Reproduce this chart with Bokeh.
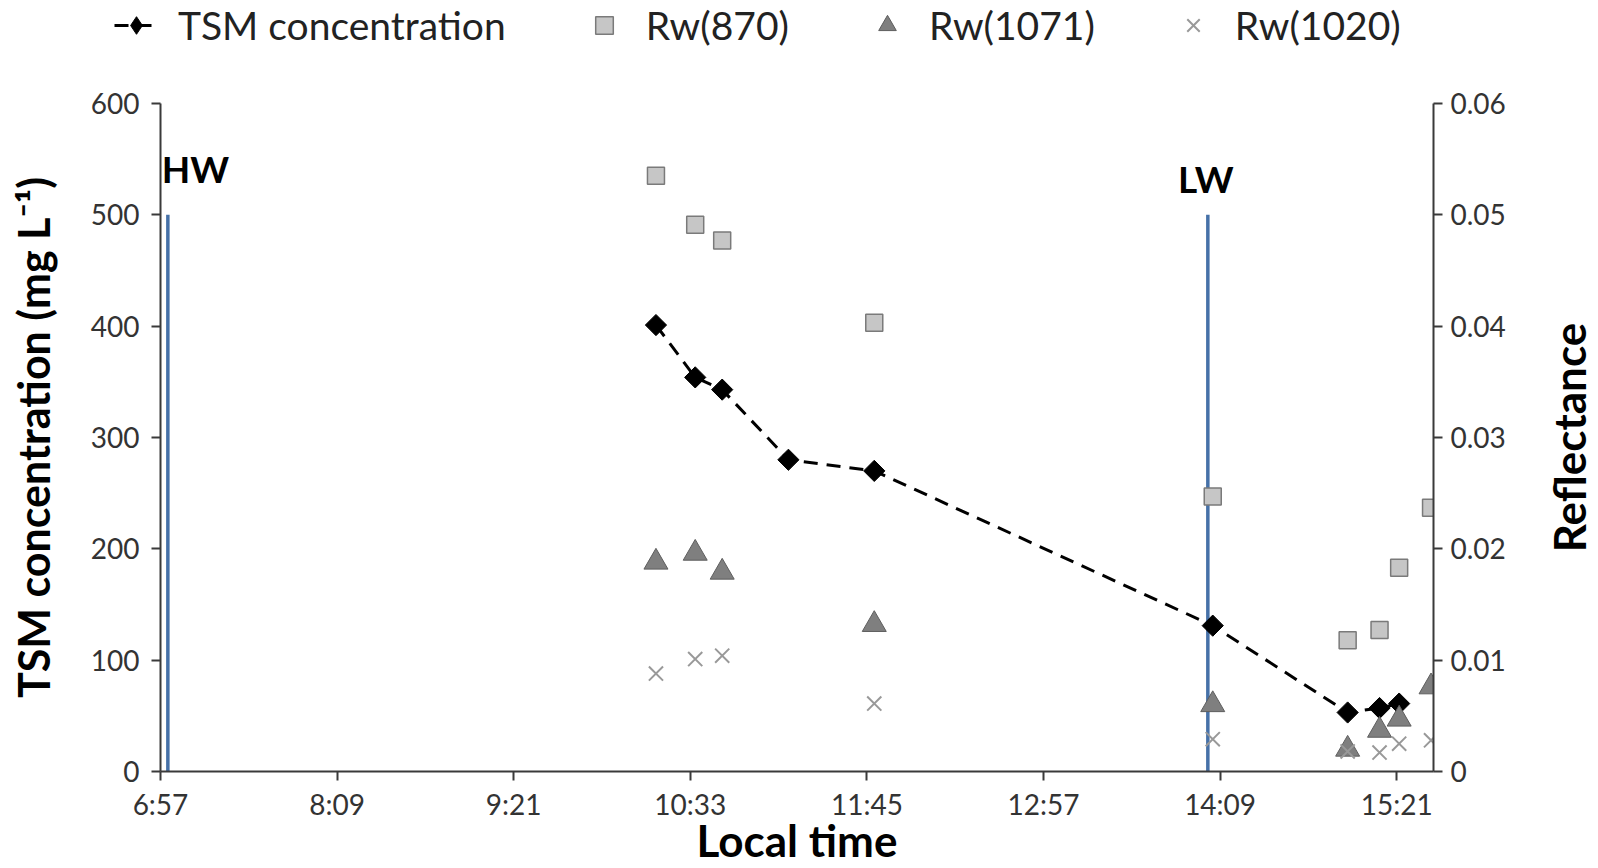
import math
from bokeh.plotting import figure
from bokeh.layouts import column, row
from bokeh.models import (Range1d, LinearAxis, FixedTicker, Legend, LegendItem,
                          CustomJSTickFormatter, Label)
from bokeh.core.properties import value
from bokeh.embed import file_html
from bokeh.resources import INLINE

# ---------------- data ----------------
tick_labels = ["6:57", "8:09", "9:21", "10:33", "11:45", "12:57", "14:09", "15:21"]
x_axis_end = "15:36"

tsm_times = ["10:19", "10:35", "10:46", "11:13", "11:48", "14:06", "15:01", "15:14", "15:22"]
tsm_values = [401, 354, 343, 280, 270, 131, 53, 57, 61]

rw_times = ["10:19", "10:35", "10:46", "11:48", "14:06", "15:01", "15:14", "15:22", "15:35"]
rw870 = [0.0535, 0.0491, 0.0477, 0.0403, 0.0247, 0.0118, 0.0127, 0.0183, 0.0237]
rw1071 = [0.0188, 0.0196, 0.0179, 0.0132, 0.0060, 0.0020, 0.0037, 0.0047, 0.0076]
rw1020 = [0.0088, 0.0101, 0.0104, 0.0061, 0.0029, 0.0018, 0.0017, 0.0025, 0.0028]

tide_events = ["HW", "LW"]
tide_times = ["7:00", "14:04"]
tide_line_top = [500, 500]

tsm_ticks = [0, 100, 200, 300, 400, 500, 600]
refl_ticks = [0, 0.01, 0.02, 0.03, 0.04, 0.05, 0.06]

series_names = ["TSM concentration", "Rw(870)", "Rw(1071)", "Rw(1020)"]

# ---------------- helpers ----------------
def to_min(s):
    h, m = s.split(":")
    return int(h) * 60 + int(m)

tick_pos = [to_min(t) for t in tick_labels]
tsm_x = [to_min(t) for t in tsm_times]
rw_x = [to_min(t) for t in rw_times]
tide_x = [to_min(t) for t in tide_times]
x_start, x_end = tick_pos[0], to_min(x_axis_end)

FONT = "Lato"
AXIS_COLOR = "#3a3a3a"
LABEL_COLOR = "#333333"

# styles
TSM_LINE = dict(line_color="black", line_width=3, line_dash="14 9")
TSM_PT = dict(marker="square", angle=math.pi / 4, size=15, fill_color="black", line_color="black")
TSM_PT_LEGEND = dict(marker="diamond", size=15, fill_color="black", line_color="black")
R870 = dict(marker="square", size=17, fill_color="#c6c6c6", line_color="#7a7a7a", line_width=1.5)
R1071 = dict(marker="triangle", size=24, fill_color="#7f7f7f", line_color="#5e5e5e", line_width=1)
R1020 = dict(marker="x", size=20, line_color="#999999", line_width=2)

LEGEND_H = 50
MAIN_W, MAIN_H = 1538, 868 - LEGEND_H
SIDE_W = 1598 - MAIN_W
TOP, BOTTOM = 103 - LEGEND_H, 97


def bare(fig):
    fig.outline_line_color = None
    fig.background_fill_color = "white"
    fig.border_fill_color = "white"
    fig.xgrid.visible = False
    fig.ygrid.visible = False
    return fig


# ---------------- main plot ----------------
y_range = Range1d(tsm_ticks[0], tsm_ticks[-1])
p = figure(width=MAIN_W, height=MAIN_H,
           x_range=Range1d(x_start, x_end), y_range=y_range,
           output_backend="svg", toolbar_location=None,
           min_border_left=160, min_border_right=MAIN_W - 1433,
           min_border_top=TOP, min_border_bottom=BOTTOM)
bare(p)
p.extra_y_ranges = {"refl": Range1d(refl_ticks[0], refl_ticks[-1])}


def style_axis(ax, label_standoff):
    ax.axis_line_color = AXIS_COLOR
    ax.axis_line_width = 2
    ax.major_tick_line_color = AXIS_COLOR
    ax.major_tick_line_width = 2
    ax.major_tick_out = 9
    ax.major_tick_in = 0
    ax.minor_tick_line_color = None
    ax.major_label_text_font = FONT
    ax.major_label_text_font_size = "28px"
    ax.major_label_text_color = LABEL_COLOR
    ax.major_label_standoff = label_standoff
    ax.axis_label_text_font = FONT
    ax.axis_label_text_font_style = "bold"
    ax.axis_label_text_color = "black"


xa = p.xaxis[0]
xa.ticker = FixedTicker(ticks=tick_pos)
xa.major_label_overrides = {tp: lab for tp, lab in zip(tick_pos, tick_labels)}
xa.axis_label = "Local time"
style_axis(xa, 6)
xa.axis_label_text_font_size = "44px"
xa.axis_label_standoff = -10

ya = p.yaxis[0]
ya.ticker = FixedTicker(ticks=tsm_ticks)
ya.axis_label = "TSM concentration (mg L\u207b\u00b9)"
style_axis(ya, 12)
ya.axis_label_text_font_size = "43px"
ya.axis_label_standoff = 29

ra = LinearAxis(y_range_name="refl", ticker=FixedTicker(ticks=refl_ticks),
                formatter=CustomJSTickFormatter(code="return tick == 0 ? '0' : tick.toFixed(2);"))
style_axis(ra, 8)
p.add_layout(ra, "right")

# tide lines and labels
p.segment(x0=tide_x, y0=[0] * len(tide_x), x1=tide_x, y1=tide_line_top,
          line_color="#4671a8", line_width=3.5)
tide_label_lift = [46, 36]
tide_label_align = ["left", "center"]
tide_label_dx = [-6, -2]
for tx, ty, tt, lift, al, dx in zip(tide_x, tide_line_top, tide_events,
                                    tide_label_lift, tide_label_align, tide_label_dx):
    p.add_layout(Label(x=tx, y=ty, y_offset=lift, x_offset=dx, text=tt,
                       text_align=al, text_baseline="alphabetic",
                       text_font=FONT, text_font_style="bold", text_font_size="37px",
                       text_color="black"))

# series
p.line(tsm_x, tsm_values, **TSM_LINE)
p.scatter(tsm_x, tsm_values, **TSM_PT)
p.scatter(rw_x, rw870, y_range_name="refl", **R870)
p.scatter(rw_x, rw1071, y_range_name="refl", **R1071)
p.scatter(rw_x, rw1020, y_range_name="refl", **R1020)

# ---------------- right title strip ----------------
side = figure(width=SIDE_W, height=MAIN_H, x_range=Range1d(0, 1), y_range=y_range,
              output_backend="svg", toolbar_location=None,
              x_axis_type=None, y_axis_type=None,
              min_border_left=0, min_border_right=0,
              min_border_top=TOP, min_border_bottom=BOTTOM)
bare(side)
side.text(x=[0.5], y=[(tsm_ticks[0] + tsm_ticks[-1]) / 2], text=["Reflectance"],
          angle=math.pi / 2, text_align="center", text_baseline="middle",
          text_font=value(FONT), text_font_style="bold", text_font_size="44px",
          text_color="black")

# ---------------- legend strip ----------------
# the same series are drawn here but fall outside this strip's ranges;
# only their legend swatches are visible
leg = figure(width=1598, height=LEGEND_H, x_range=Range1d(0, 1), y_range=Range1d(0, 1),
             output_backend="svg", toolbar_location=None,
             x_axis_type=None, y_axis_type=None, min_border=0)
bare(leg)
lr_line = leg.line(tsm_x, tsm_values, **TSM_LINE)
lr_pt = leg.scatter(tsm_x, tsm_values, **TSM_PT_LEGEND)
lr870 = leg.scatter(rw_x, rw870, **R870)
lr1071 = leg.scatter(rw_x, rw1071, **R1071)
lr1020 = leg.scatter(rw_x, rw1020, **R1020)

legend = Legend(items=[
    LegendItem(label=series_names[0], renderers=[lr_line, lr_pt]),
    LegendItem(label=series_names[1], renderers=[lr870]),
    LegendItem(label=series_names[2], renderers=[lr1071]),
    LegendItem(label=series_names[3], renderers=[lr1020]),
], orientation="horizontal", location=(114, 0),
    glyph_width=44, glyph_height=50, label_standoff=20, spacing=76,
    label_text_font=FONT, label_text_font_size="39px", label_text_color="#222222",
    padding=0, margin=0, border_line_color=None, background_fill_alpha=0)
leg.add_layout(legend)

layout = column(leg, row(p, side))
open("out.html", "w").write(file_html(layout, INLINE))
